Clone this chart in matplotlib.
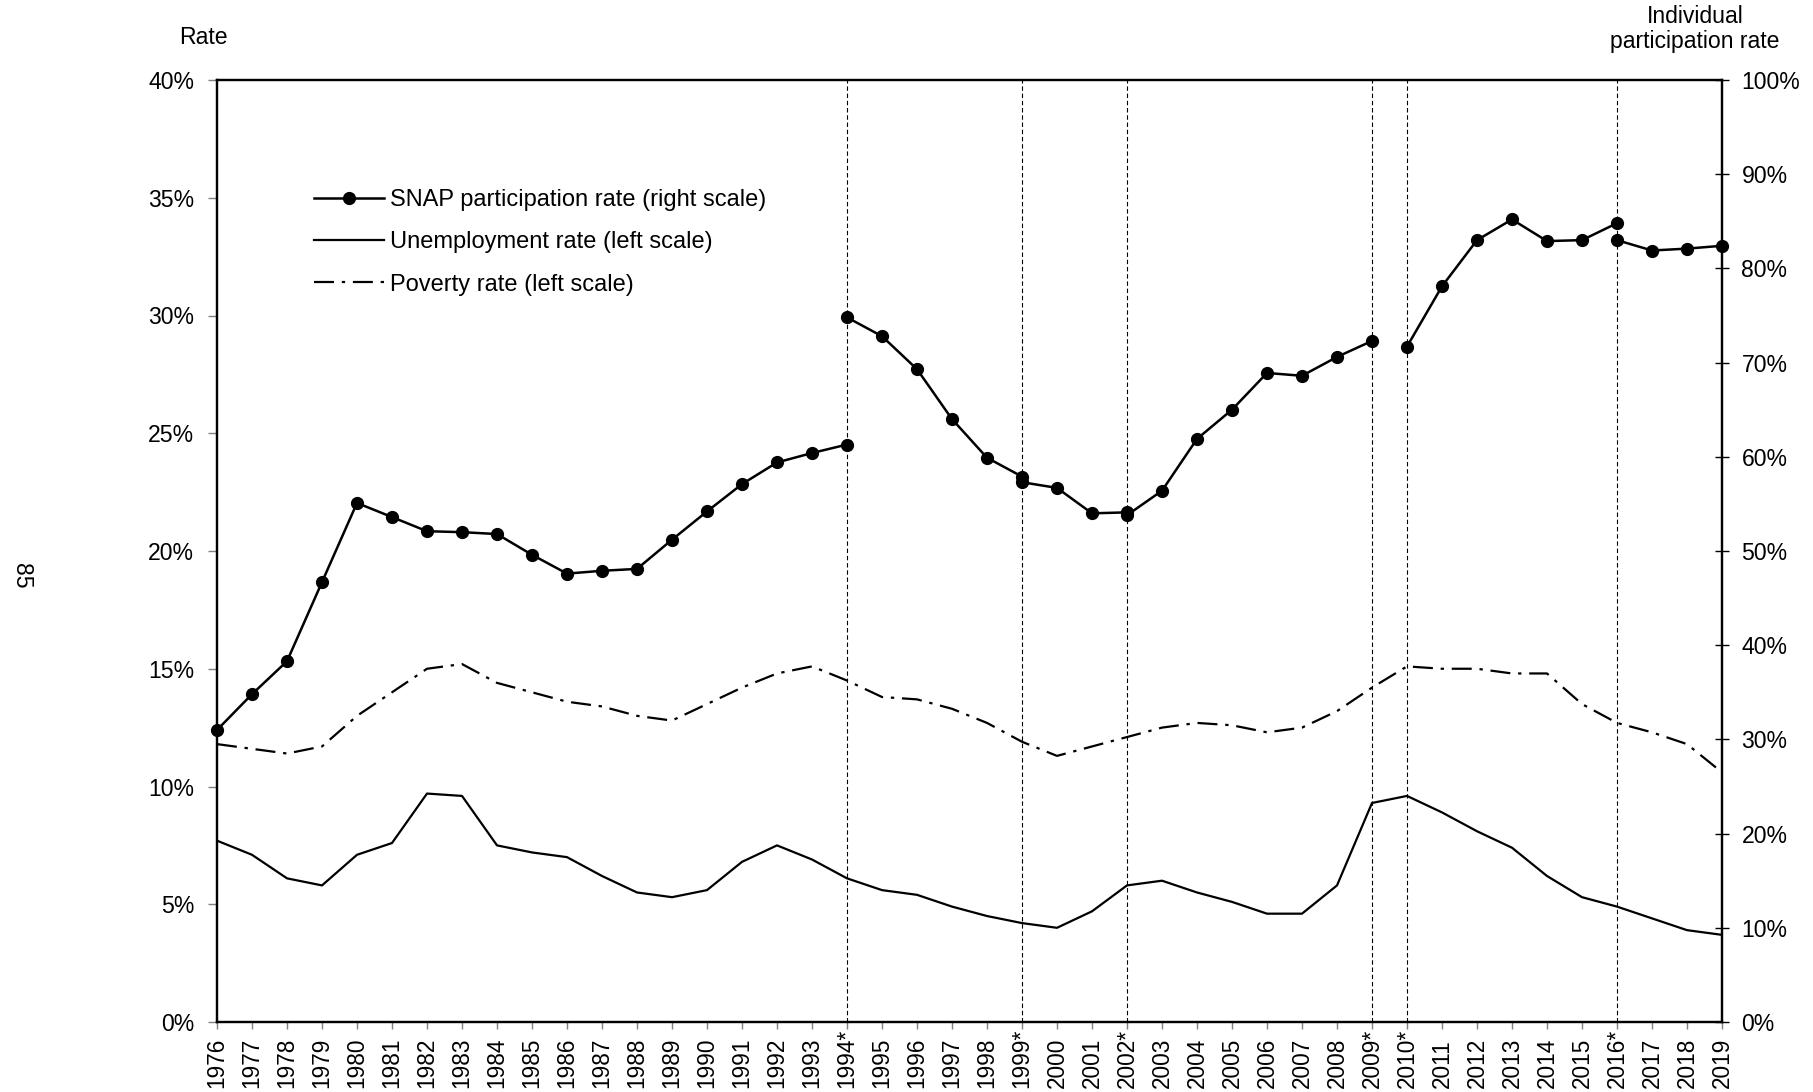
#SNAP participation rate against unemployment and poverty rates
import matplotlib
matplotlib.use("Agg")
import matplotlib.pyplot as plt
from matplotlib.lines import Line2D
from matplotlib.ticker import FuncFormatter
from matplotlib.transforms import blended_transform_factory

plt.rcParams['font.family'] = ['Liberation Sans', 'DejaVu Sans']

years = list(range(1976, 2020))
starred_years = [1994, 1999, 2002, 2009, 2010, 2016]

# left scale, percent
unemployment = [7.7, 7.1, 6.1, 5.8, 7.1, 7.6, 9.7, 9.6, 7.5, 7.2,
                7.0, 6.2, 5.5, 5.3, 5.6, 6.8, 7.5, 6.9, 6.1, 5.6,
                5.4, 4.9, 4.5, 4.2, 4.0, 4.7, 5.8, 6.0, 5.5, 5.1,
                4.6, 4.6, 5.8, 9.3, 9.6, 8.9, 8.1, 7.4, 6.2, 5.3,
                4.9, 4.4, 3.9, 3.7]
poverty = [11.8, 11.6, 11.4, 11.7, 13.0, 14.0, 15.0, 15.2, 14.4, 14.0,
           13.6, 13.4, 13.0, 12.8, 13.5, 14.2, 14.8, 15.1, 14.5, 13.8,
           13.7, 13.3, 12.7, 11.9, 11.3, 11.7, 12.1, 12.5, 12.7, 12.6,
           12.3, 12.5, 13.2, 14.2, 15.1, 15.0, 15.0, 14.8, 14.8, 13.5,
           12.7, 12.3, 11.8, 10.6]

# right scale, percent -- series breaks at the starred years
snap_years_1 = list(range(1976, 1995))
snap_rate_1 = [31.0, 34.8, 38.3, 46.7, 55.1, 53.6, 52.1, 52.0, 51.8, 49.6,
               47.6, 47.9, 48.1, 51.2, 54.2, 57.1, 59.4, 60.4, 61.3]
snap_years_2 = list(range(1994, 2000))
snap_rate_2 = [74.8, 72.8, 69.3, 64.0, 59.9, 57.9]
snap_years_3 = list(range(1999, 2003))
snap_rate_3 = [57.3, 56.7, 54.0, 54.1]
snap_years_4 = list(range(2002, 2010))
snap_rate_4 = [53.8, 56.4, 61.9, 65.0, 68.9, 68.6, 70.6, 72.3]
snap_years_5 = list(range(2010, 2017))
snap_rate_5 = [71.7, 78.1, 83.0, 85.2, 82.9, 83.0, 84.8]
snap_years_6 = list(range(2016, 2020))
snap_rate_6 = [83.0, 81.9, 82.1, 82.4]

snap_segments = [(snap_years_1, snap_rate_1), (snap_years_2, snap_rate_2),
                 (snap_years_3, snap_rate_3), (snap_years_4, snap_rate_4),
                 (snap_years_5, snap_rate_5), (snap_years_6, snap_rate_6)]

FS = 16.6
poverty_style = (0, (9, 3.5, 1.5, 3.5))

fig = plt.figure(figsize=(18.13, 10.92), dpi=100)
ax = fig.add_axes([217 / 1813, 70 / 1092, 1505 / 1813, 942 / 1092])
ax2 = ax.twinx()

for yr in starred_years:
    ax.axvline(yr, color='black', linestyle=(0, (4, 2.5)), linewidth=0.8, zorder=1)

ax.plot(years, unemployment, color='black', linewidth=1.6, zorder=3)
ax.plot(years, poverty, color='black', linewidth=1.6, linestyle=poverty_style, zorder=3)

for yrs, vals in snap_segments:
    ax2.plot(yrs, vals, color='black', linewidth=1.8, marker='o', markersize=8.5,
             clip_on=False, zorder=4)

ax.set_xlim(1976, 2019)
ax.set_ylim(0, 40)
ax2.set_ylim(0, 100)
ax.set_yticks(range(0, 41, 5))
ax2.set_yticks(range(0, 101, 10))
ax.yaxis.set_major_formatter(FuncFormatter(lambda v, p: '%d%%' % v))
ax2.yaxis.set_major_formatter(FuncFormatter(lambda v, p: '%d%%' % v))

# year labels: digits share a common baseline, the star sticks up toward the axis
ax.set_xticks(years)
ax.tick_params(axis='x', direction='out', length=5, width=1, color='grey',
               labelbottom=False)
trans = blended_transform_factory(ax.transData, fig.transFigure)
for y in years:
    lab = str(y) + ('*' if y in starred_years else '')
    ax.text(y, 4 / 1092, lab, transform=trans, rotation=90, fontsize=16.3,
            ha='center', va='bottom')

ax.tick_params(axis='y', direction='out', length=6.5, width=1, color='grey',
               labelsize=FS, pad=10)
ax2.tick_params(axis='y', direction='inout', length=10, width=1, color='black',
                labelsize=FS, pad=9)

for a in (ax, ax2):
    for s in a.spines.values():
        s.set_linewidth(1.6)
        s.set_color('black')

fig.text(203 / 1813, 1 - 37 / 1092, 'Rate', fontsize=FS, ha='center', va='center')
fig.text(1695 / 1813, 1 - 29 / 1092, 'Individual\nparticipation rate', fontsize=FS,
         ha='center', va='center', linespacing=1.15)
fig.text(22 / 1813, 1 - 576 / 1092, '85', fontsize=FS, rotation=270,
         ha='center', va='center')

handles = [
    Line2D([], [], color='black', linewidth=1.8, marker='o', markersize=8.5),
    Line2D([], [], color='black', linewidth=1.6),
    Line2D([], [], color='black', linewidth=1.6, linestyle=poverty_style),
]
labels = ['SNAP participation rate (right scale)',
          'Unemployment rate (left scale)',
          'Poverty rate (left scale)']
ax2.legend(handles, labels, loc='upper left', frameon=False, fontsize=17,
           bbox_to_anchor=(314 / 1813, 1 - 189 / 1092), bbox_transform=fig.transFigure,
           borderpad=0, borderaxespad=0, handlelength=2.95, handletextpad=0.25,
           labelspacing=0.86, numpoints=1)

fig.savefig('out.png', dpi=100)
